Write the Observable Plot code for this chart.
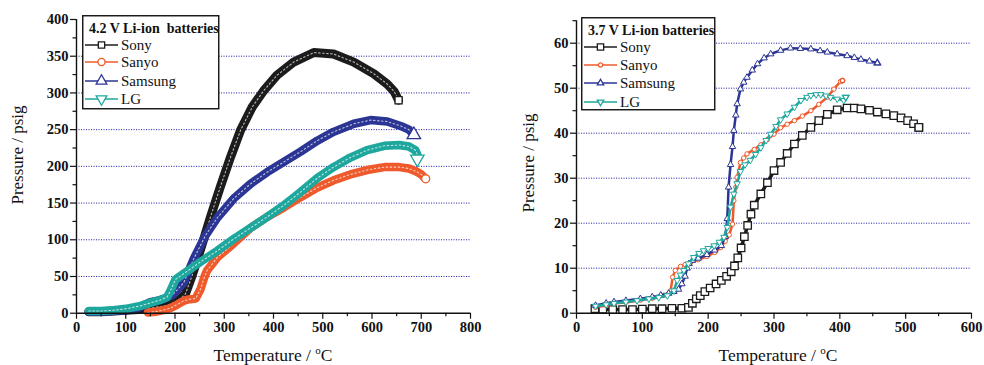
<!DOCTYPE html>
<html><head><meta charset="utf-8">
<script src="https://cdn.jsdelivr.net/npm/d3@7"></script>
<script src="https://cdn.jsdelivr.net/npm/@observablehq/plot@0.6"></script>
<style>
body{margin:0;background:#fff;}
#wrap{position:relative;width:984px;height:365px;overflow:hidden;}
#wrap svg{position:absolute;top:0;}
</style></head><body><div id="wrap"></div>
<script>
// ---------- DATA ----------
const series = ["Sony", "Sanyo", "Samsung", "LG"];
const colors = ["#1c1c1c", "#ef5a2c", "#2b3594", "#1ea79d"];

// 4.2 V Li-ion batteries (left)
const sony42T = [25, 50, 75, 100, 125, 150, 170, 185, 200, 210, 221, 233, 245, 258, 272, 292, 313, 333, 357, 380, 407, 441, 482, 522, 563, 604, 631, 645, 654];
const sony42P = [2, 2, 3, 4, 5, 7, 9, 11, 15, 19, 26, 48, 72, 100, 131, 172, 213, 249, 281, 303, 324, 342, 355, 353, 342, 326, 312, 302, 290];
const sanyo42T = [145, 160, 175, 191, 205, 218, 230, 242, 252, 259, 265, 286, 319, 353, 387, 421, 455, 489, 522, 556, 590, 625, 655, 675, 690, 700, 709];
const sanyo42P = [1, 2, 4, 7, 12, 17, 19, 20, 33, 48, 58, 76, 95, 116, 131, 144, 158, 171, 181, 189, 195, 199, 199, 197, 193, 189, 183];
const samsung42T = [25, 50, 75, 100, 125, 140, 150, 165, 180, 195, 205, 218, 238, 262, 286, 319, 353, 387, 421, 455, 489, 522, 563, 597, 631, 658, 675, 685];
const samsung42P = [2, 2, 3, 4, 7, 12, 15, 17, 20, 25, 32, 42, 74, 106, 130, 156, 176, 192, 206, 220, 235, 247, 258, 263, 261, 255, 250, 243];
const lg42T = [25, 50, 75, 100, 130, 150, 170, 184, 191, 201, 218, 252, 286, 319, 353, 387, 421, 455, 489, 522, 556, 590, 625, 655, 675, 688, 692, 692];
const lg42P = [3, 3, 4, 6, 10, 14, 18, 22, 31, 46, 54, 70, 85, 101, 116, 131, 147, 165, 184, 199, 212, 222, 228, 229, 227, 222, 216, 210];

// 3.7 V Li-ion batteries (right)
const sony37T = [28, 40, 55, 70, 85, 100, 115, 130, 145, 160, 170, 176, 182, 188, 195, 203, 212, 220, 228, 235, 240, 245, 250, 255, 260, 265, 270, 280, 290, 300, 310, 320, 331, 343, 356, 368, 381, 396, 411, 422, 432, 445, 457, 470, 482, 493, 503, 512, 520];
const sony37P = [1.0, 0.9, 0.8, 0.8, 0.8, 0.9, 1.0, 1.0, 1.1, 1.1, 1.3, 2.2, 3.2, 3.9, 4.8, 5.6, 6.5, 7.3, 8.2, 9.2, 10.5, 12.3, 14.5, 17, 19.5, 22, 24, 26.5, 29, 31.7, 33.5, 35.5, 37.6, 39.5, 41.3, 42.8, 44.2, 45.2, 45.6, 45.6, 45.4, 45.1, 44.7, 44.3, 43.9, 43.4, 42.8, 42.1, 41.3];
const sanyo37T = [29, 45, 57, 75, 97, 115, 133, 143, 146, 150, 158, 165, 173, 185, 198, 210, 219, 226, 232, 237, 239, 242, 244, 249, 254, 259, 270, 280, 290, 300, 310, 320, 331, 343, 356, 368, 381, 391, 401, 404];
const sanyo37P = [1.3, 1.7, 2.2, 2.4, 2.9, 3.3, 4, 5, 8, 9.5, 10.4, 10.8, 11.2, 11.9, 12.6, 13.5, 14.6, 16, 17.4, 19.8, 25, 28, 30.2, 33.5, 34.5, 35.4, 36.4, 37.4, 38.6, 39.8, 41.2, 42, 42.8, 43.8, 45, 46.4, 48, 49.8, 51.5, 51.7];
const samsung37T = [29, 45, 57, 75, 97, 115, 128, 140, 148, 155, 160, 165, 168, 171, 176, 185, 198, 210, 220, 226, 229, 231, 234, 237, 239, 242, 244, 249, 254, 259, 267, 275, 285, 295, 310, 325, 340, 356, 370, 381, 396, 411, 422, 432, 445, 457];
const samsung37P = [1.7, 2.2, 2.5, 2.8, 3.2, 3.6, 4, 4.4, 4.8, 5.3, 6.5, 8.2, 10, 11, 11.7, 12.2, 13, 14, 15, 17, 21, 28, 33, 37, 40.6, 44, 46.5, 49.8, 51.3, 52.4, 54, 55.4, 56.7, 57.6, 58.4, 58.9, 58.8, 58.7, 58.3, 58, 57.6, 57.2, 56.8, 56.4, 56, 55.6];
const lg37T = [29, 45, 57, 75, 92, 110, 125, 138, 148, 153, 158, 163, 170, 178, 186, 193, 200, 209, 217, 224, 229, 234, 239, 244, 249, 256, 264, 272, 280, 288, 295, 303, 310, 320, 331, 341, 350, 356, 364, 371, 379, 386, 396, 406, 409];
const lg37P = [1.6, 1.9, 2.2, 2.5, 2.8, 3.2, 3.5, 3.9, 5, 7.3, 8.5, 9.5, 11, 12.4, 13.3, 13.9, 14.4, 15, 15.8, 16.9, 19.1, 23.6, 26.5, 28.8, 31.5, 33, 34, 35.3, 36.8, 38.4, 39.8, 41.5, 43, 44.3, 45.8, 47.3, 48, 48.4, 48.6, 48.6, 48.3, 48, 47.6, 47.3, 48];

// axis ticks
const left_xTicks = [0, 100, 200, 300, 400, 500, 600, 700, 800];
const left_xMinor = [50, 150, 250, 350, 450, 550, 650, 750];
const left_yTicks = [0, 50, 100, 150, 200, 250, 300, 350, 400];
const left_yMinor = [25, 75, 125, 175, 225, 275, 325, 375];
const left_grid = [50, 100, 150, 200, 250, 300, 350];
const right_xTicks = [0, 100, 200, 300, 400, 500, 600];
const right_xMinor = [50, 150, 250, 350, 450, 550];
const right_yTicks = [0, 10, 20, 30, 40, 50, 60];
const right_yMinor = [5, 15, 25, 35, 45, 55, 65];
const right_grid = [10, 20, 30, 40, 50, 60];

// ---------- helpers ----------
const sqrt3 = Math.sqrt(3);
const triangleDown = {draw(ctx, size) {
  const y = -Math.sqrt(size / (sqrt3 * 3));
  ctx.moveTo(0, -y * 2); ctx.lineTo(-sqrt3 * y, y); ctx.lineTo(sqrt3 * y, y); ctx.closePath();
}};
const symbols = ["square", "circle", "triangle", triangleDown];
const zip = (T, P) => T.map((t, i) => ({T: t, P: P[i]}));
const serif = "'Liberation Serif', 'Times New Roman', serif";

function panel(cfg) {
  const marks = [
    Plot.ruleY(cfg.grid, {stroke: "#2a2aa6", strokeWidth: 1, strokeDasharray: "1.1,1.4"})
  ];
  cfg.data.forEach((d, i) => {
    const st = cfg.styles[i];
    marks.push(Plot.line(d, {x: "T", y: "P", stroke: colors[i], strokeWidth: st.band, strokeLinejoin: "round", strokeLinecap: "round"}));
    if (st.speckle) marks.push(Plot.line(d, {x: "T", y: "P", stroke: "white", strokeWidth: 1.1, strokeDasharray: "1.5,2.5", strokeOpacity: 0.7}));
    if (st.r > 0) marks.push(Plot.dot(d, {x: "T", y: "P", symbol: symbols[i], r: st.r, stroke: colors[i], fill: "white", strokeWidth: st.sw}));
    marks.push(Plot.dot([d[d.length - 1]], {x: "T", y: "P", symbol: symbols[i], r: st.endR, stroke: colors[i], fill: "white", strokeWidth: 1.3}));
  });
  marks.push(
    Plot.ruleY([cfg.yDomain[0]], {stroke: "#111", strokeWidth: 1.4}),
    Plot.ruleX([cfg.xDomain[0]], {stroke: "#111", strokeWidth: 1.4}),
    Plot.axisX(cfg.xTicks, {tickSize: 6, tickPadding: 3, label: null, stroke: "#111", strokeWidth: 1.2, fill: "#111"}),
    Plot.axisX(cfg.xMinor, {tickSize: 3.5, tickFormat: () => "", label: null, stroke: "#111", strokeWidth: 1.2}),
    Plot.axisY(cfg.yTicks, {tickSize: 6, tickPadding: 2, label: null, stroke: "#111", strokeWidth: 1.2, fill: "#111"}),
    Plot.axisY(cfg.yMinor, {tickSize: 3.5, tickFormat: () => "", label: null, stroke: "#111", strokeWidth: 1.2})
  );
  const svg = Plot.plot({
    width: cfg.width, height: 365,
    marginLeft: cfg.ml, marginRight: cfg.mr, marginTop: cfg.mt, marginBottom: cfg.mb,
    x: {domain: cfg.xDomain}, y: {domain: cfg.yDomain},
    style: {fontFamily: serif, fontSize: "14.5px", fontWeight: "bold", background: "transparent", overflow: "visible"},
    marks
  });
  svg.style.left = cfg.left + "px";
  const s = d3.select(svg);
  const xt = s.append("text").attr("x", cfg.xTitle[0]).attr("y", cfg.xTitle[1])
    .attr("text-anchor", "middle").attr("font-size", 17.5).attr("font-weight", "normal").attr("fill", "#111");
  xt.append("tspan").text("Temperature / ");
  xt.append("tspan").attr("dy", -7).attr("font-size", 11).text("o");
  xt.append("tspan").attr("dy", 7).text("C");
  s.append("text").attr("transform", `translate(${cfg.yTitle[0]},${cfg.yTitle[1]}) rotate(-90)`)
    .attr("text-anchor", "middle").attr("dominant-baseline", "central")
    .attr("font-size", 17).attr("font-weight", "normal").attr("fill", "#111").text("Pressure / psig");
  document.getElementById("wrap").appendChild(svg);
}

function legend(cfg) {
  const svg = d3.select("#wrap").append("svg").attr("width", cfg.w + 2).attr("height", cfg.h + 2)
    .style("left", cfg.x + "px").style("top", cfg.y + "px").style("font-family", serif);
  svg.append("rect").attr("x", 0.75).attr("y", 0.75).attr("width", cfg.w).attr("height", cfg.h)
    .attr("fill", "white").attr("stroke", "#111").attr("stroke-width", 1.4);
  svg.append("text").attr("x", 7).attr("y", cfg.titleY).attr("font-size", 14).attr("font-weight", "bold")
    .attr("fill", "#111").style("white-space", "pre").text(cfg.title);
  series.forEach((name, i) => {
    const cy = cfg.rows[i];
    svg.append("line").attr("x1", 3).attr("x2", 36).attr("y1", cy).attr("y2", cy)
      .attr("stroke", colors[i]).attr("stroke-width", 1.3);
    const sym = d3.symbol(i === 3 ? triangleDown : [d3.symbolSquare, d3.symbolCircle, d3.symbolTriangle][i], cfg.symSize[i]);
    svg.append("path").attr("d", sym()).attr("transform", `translate(19.5,${cy})`)
      .attr("fill", "white").attr("stroke", colors[i]).attr("stroke-width", 1.3);
    svg.append("text").attr("x", 39).attr("y", cy).attr("dominant-baseline", "central")
      .attr("font-size", 15).attr("fill", "#111").text(name);
  });
}

panel({
  left: 0, width: 490, ml: 76, mr: 20, mt: 19, mb: 52.3,
  xDomain: [0, 800], yDomain: [0, 400],
  xTicks: left_xTicks, xMinor: left_xMinor, yTicks: left_yTicks, yMinor: left_yMinor, grid: left_grid,
  data: [zip(sony42T, sony42P), zip(sanyo42T, sanyo42P), zip(samsung42T, samsung42P), zip(lg42T, lg42P)],
  styles: [
    {band: 9, speckle: true, r: 0, endR: 4, sw: 1},
    {band: 8.5, speckle: true, r: 0, endR: 4, sw: 1},
    {band: 8.5, speckle: true, r: 0, endR: 5, sw: 1},
    {band: 8.5, speckle: true, r: 0, endR: 5, sw: 1}
  ],
  xTitle: [273, 361], yTitle: [17, 155]
});
panel({
  left: 490, width: 494, ml: 86, mr: 13, mt: 20.2, mb: 52.3,
  xDomain: [0, 600], yDomain: [0, 65],
  xTicks: right_xTicks, xMinor: right_xMinor, yTicks: right_yTicks, yMinor: right_yMinor, grid: right_grid,
  data: [zip(sony37T, sony37P), zip(sanyo37T, sanyo37P), zip(samsung37T, samsung37P), zip(lg37T, lg37P)],
  styles: [
    {band: 3.5, speckle: false, r: 4.2, endR: 4.2, sw: 1.3},
    {band: 2.5, speckle: false, r: 2.2, endR: 2.2, sw: 1},
    {band: 2.5, speckle: false, r: 2.4, endR: 2.4, sw: 1},
    {band: 2.5, speckle: false, r: 2.4, endR: 2.4, sw: 1}
  ],
  xTitle: [288, 361], yTitle: [38, 163]
});
legend({x: 82, y: 15, w: 136, h: 93, title: "4.2 V Li-ion  batteries", titleY: 18,
  rows: [30, 47, 66, 84], symSize: [40, 40, 50, 50]});
legend({x: 581, y: 17, w: 133, h: 92, title: "3.7 V Li-ion batteries", titleY: 18,
  rows: [30, 48, 66, 85], symSize: [40, 14, 18, 18]});
</script></body></html>
